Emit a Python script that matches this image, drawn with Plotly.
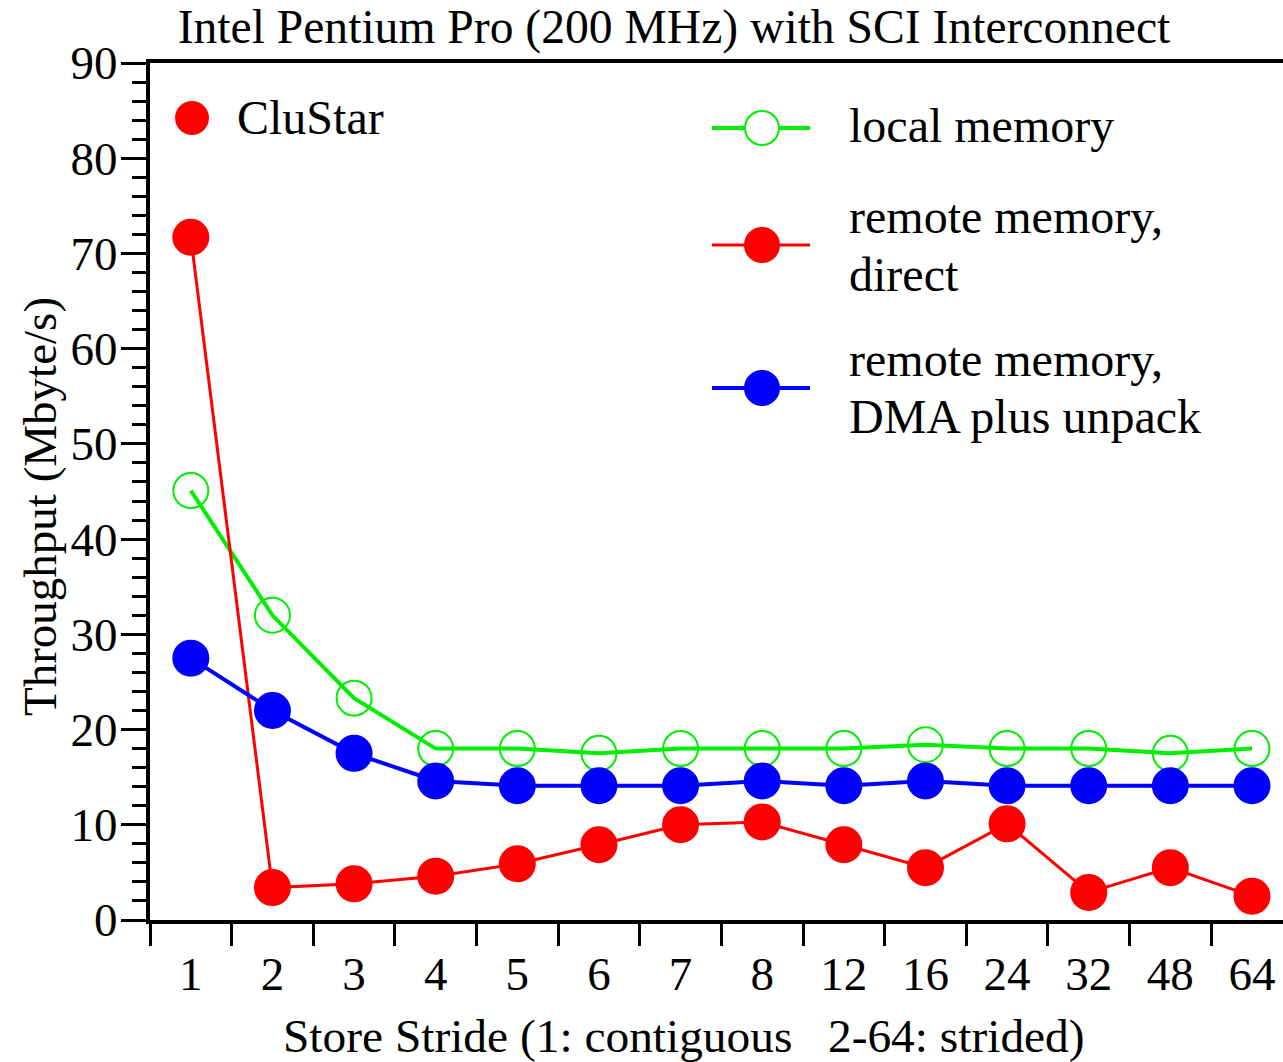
import plotly.graph_objects as go

strides = ["1", "2", "3", "4", "5", "6", "7", "8", "12", "16", "24", "32", "48", "64"]
local_memory = [45.1, 32.0, 23.3, 18.0, 18.0, 17.5, 18.0, 18.0, 18.0, 18.4, 18.0, 18.0, 17.5, 18.0]
remote_direct = [71.7, 3.4, 3.8, 4.6, 5.9, 7.9, 10.0, 10.3, 7.9, 5.5, 10.1, 2.9, 5.5, 2.5]
remote_dma = [27.5, 22.0, 17.5, 14.6, 14.1, 14.1, 14.1, 14.6, 14.1, 14.6, 14.1, 14.1, 14.1, 14.1]

series_names = ["local memory", "remote memory,<br>direct", "remote memory,<br>DMA plus unpack"]
panel_label = "CluStar"
title_text = "Intel Pentium Pro (200 MHz) with SCI Interconnect"
x_title = "Store Stride (1: contiguous\u00a0\u00a0\u00a02-64: strided)"
y_title = "Throughput (Mbyte/s)"

FONT = "Liberation Serif"
FS = 47
GREEN = "#00ee00"
RED = "#ff0000"
BLUE = "#0000ff"

W, H = 1283, 1062
# plot area in page pixels: x 150..1283, y 63..920
PL, PR, PT, PB = 150, 1283, 63, 920
L, R, T, B = PL, W - PR, PT, H - PB
PW, PH = PR - PL, PB - PT


def px(xp):
    return (xp - PL) / PW


def py(yp):
    return (PB - yp) / PH


styles = [
    dict(color=GREEN, lw=4, open=True),
    dict(color=RED, lw=3, open=False),
    dict(color=BLUE, lw=4, open=False),
]
series = [local_memory, remote_direct, remote_dma]

fig = go.Figure()
for name, vals, st in zip(series_names, series, styles):
    fig.add_trace(go.Scatter(
        x=strides, y=vals, mode="lines+markers", name=name,
        line=dict(color=st["color"], width=st["lw"]),
        marker=dict(symbol="circle-open" if st["open"] else "circle",
                    size=35, color=st["color"],
                    line=dict(width=2, color=st["color"])),
        showlegend=False))

# hand-drawn legend (large markers like the original)
shapes = []
annotations = []
legend_rows = [128, 245, 388]
for name, st, yrow in zip(series_names, styles, legend_rows):
    shapes.append(dict(type="line", xref="paper", yref="paper",
                       x0=px(712), x1=px(810), y0=py(yrow), y1=py(yrow),
                       line=dict(color=st["color"], width=st["lw"])))
    shapes.append(dict(type="circle", xref="paper", yref="paper",
                       xsizemode="pixel", ysizemode="pixel",
                       xanchor=px(762), yanchor=py(yrow),
                       x0=-17, x1=17, y0=-17, y1=17,
                       fillcolor="white" if st["open"] else st["color"],
                       line=dict(color=st["color"], width=2)))
    lines = name.split("<br>")
    offs = [-2] if len(lines) == 1 else [-28, 29]
    for txt, o in zip(lines, offs):
        annotations.append(dict(text=txt, xref="paper", yref="paper",
                                x=px(847), y=py(yrow + o), xanchor="left", yanchor="middle",
                                showarrow=False, font=dict(family=FONT, size=48, color="black")))

shapes.append(dict(type="circle", xref="paper", yref="paper",
                   xsizemode="pixel", ysizemode="pixel",
                   xanchor=px(192), yanchor=py(118),
                   x0=-17, x1=17, y0=-17, y1=17,
                   fillcolor=RED, line=dict(color=RED, width=0)))
annotations.append(dict(text=panel_label, xref="paper", yref="paper",
                        x=px(235), y=py(118), xanchor="left", yanchor="middle",
                        showarrow=False, font=dict(family=FONT, size=48, color="black")))

# axis titles placed like the original
annotations.append(dict(text=x_title, xref="paper", yref="paper",
                        x=px(684), y=py(1036), xanchor="center", yanchor="middle",
                        showarrow=False, font=dict(family=FONT, size=47.4, color="black")))
annotations.append(dict(text=y_title, xref="paper", yref="paper", textangle=-90,
                        x=px(40), y=py(507), xanchor="center", yanchor="middle",
                        showarrow=False, font=dict(family=FONT, size=FS, color="black")))

fig.update_layout(
    width=W, height=H,
    margin=dict(l=L, r=R, t=T, b=B, pad=0),
    paper_bgcolor="white", plot_bgcolor="white",
    font=dict(family=FONT, size=FS, color="black"),
    title=dict(text=title_text,
               xref="container", x=674 / W, xanchor="center",
               yref="container", y=1 - 26 / H, yanchor="middle",
               font=dict(family=FONT, size=47.6, color="black")),
    showlegend=False,
    shapes=shapes,
    annotations=annotations,
    xaxis=dict(type="category", range=[-0.5, 13.38], tickson="boundaries",
               automargin=False,
               showline=True, linecolor="black", linewidth=4, mirror=True,
               ticks="outside", ticklen=22, tickwidth=3, tickcolor="black",
               ticklabelstandoff=10,
               showgrid=False, zeroline=False,
               tickfont=dict(family=FONT, size=FS)),
    yaxis=dict(range=[0, 90], dtick=10, tick0=0, automargin=False,
               showline=True, linecolor="black", linewidth=4,
               ticks="outside", ticklen=25, tickwidth=3, tickcolor="black",
               ticklabelstandoff=-6,
               minor=dict(dtick=2, ticks="outside", ticklen=14, tickwidth=3, tickcolor="black", showgrid=False),
               showgrid=False, zeroline=False,
               tickfont=dict(family=FONT, size=FS)),
)

fig.write_html("out.html",
               config={"displayModeBar": False},
               post_script="document.body.style.margin='0';document.body.style.overflow='hidden';")
